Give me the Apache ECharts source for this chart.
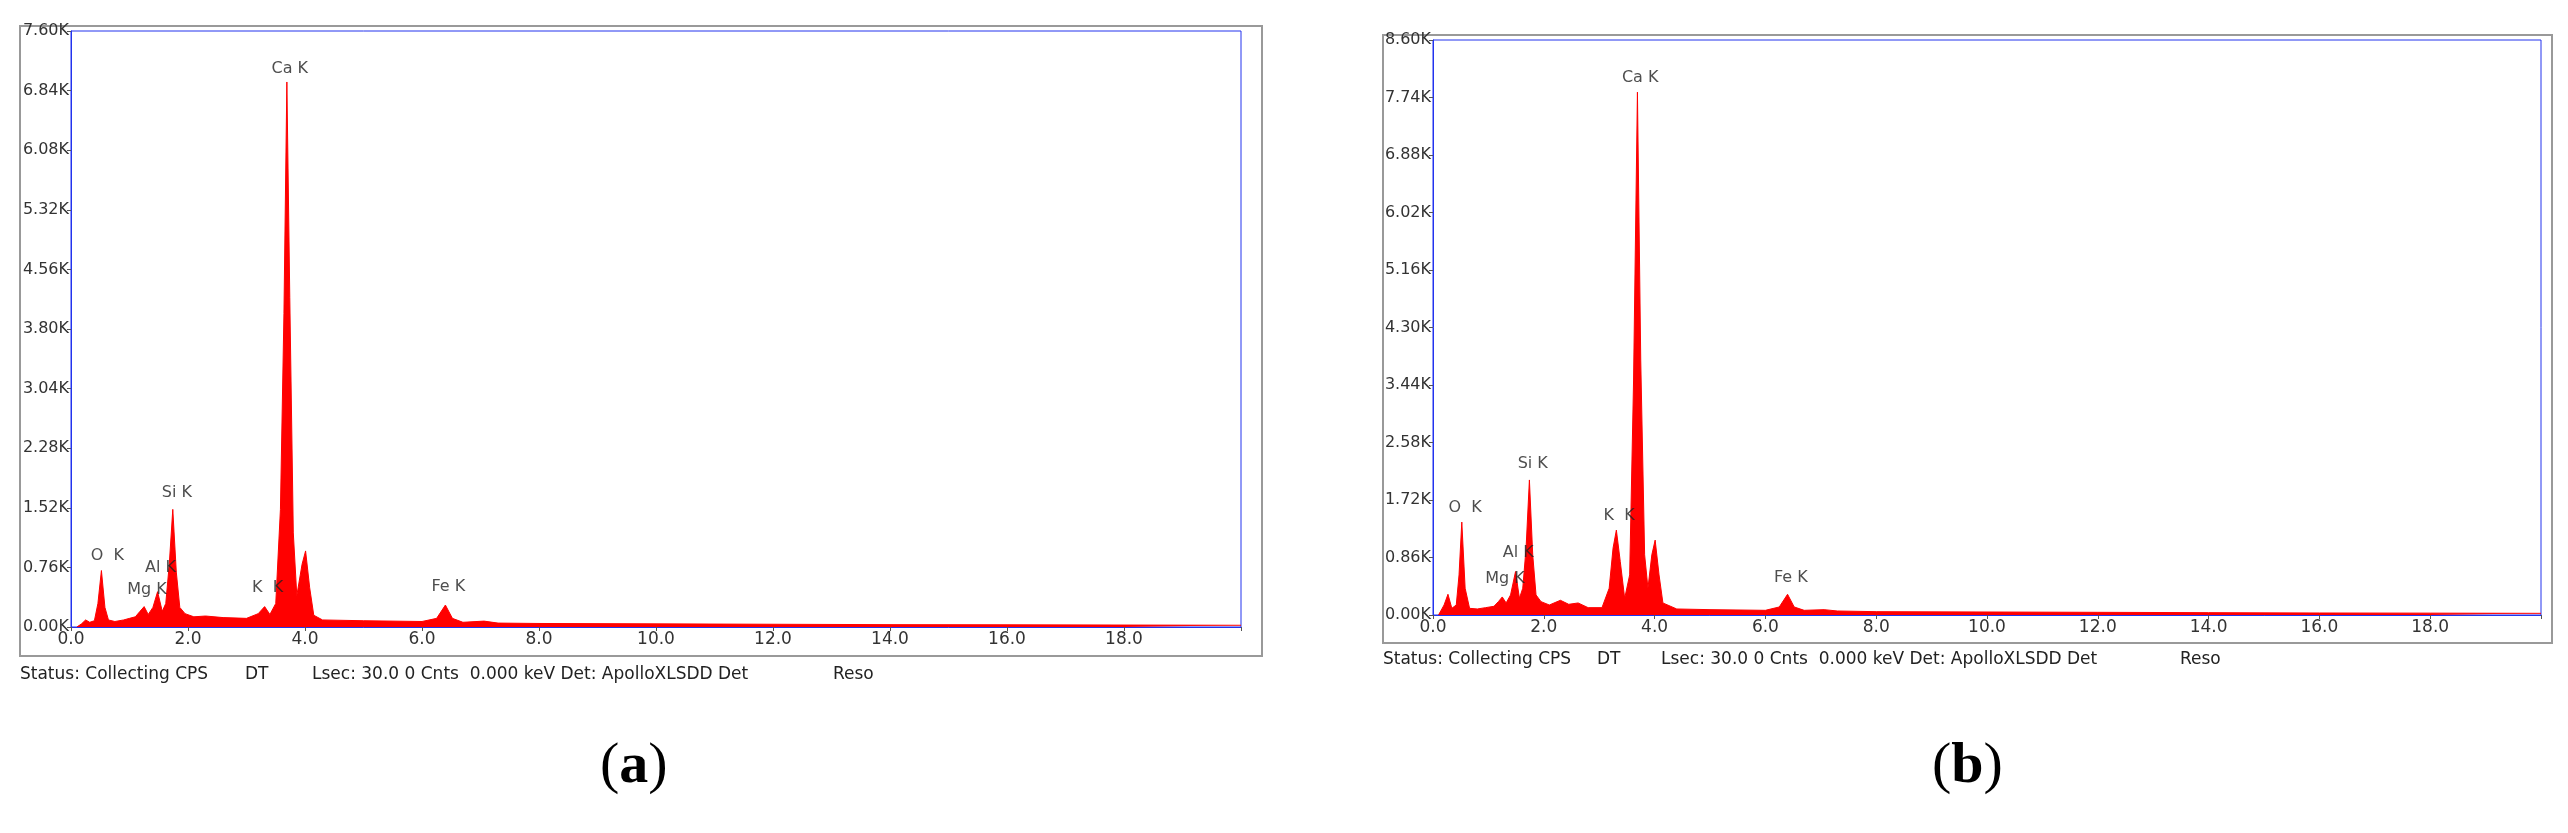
<!DOCTYPE html>
<html><head><meta charset="utf-8">
<script src="https://cdn.jsdelivr.net/npm/echarts@6/dist/echarts.min.js"></script>
<style>html,body{margin:0;padding:0;background:#fff}#c{width:2568px;height:833px}</style>
</head><body><div id="c"></div>
<script>
// Panel (a) spectrum
const energyA = [0.10,0.18,0.25,0.32,0.40,0.46,0.52,0.58,0.64,0.75,0.90,1.00,1.10,1.18,1.25,1.32,1.40,1.48,1.56,1.62,1.68,1.74,1.80,1.86,1.95,2.10,2.30,2.60,3.00,3.20,3.31,3.40,3.50,3.58,3.64,3.69,3.74,3.80,3.86,3.95,4.01,4.08,4.15,4.30,5.00,6.00,6.25,6.40,6.52,6.70,7.06,7.30,8,10,12,14,16,18,20];
const countsA = [0,40,90,60,80,300,720,250,90,70,90,110,130,200,260,160,250,450,200,300,800,1500,700,250,170,130,140,120,110,170,260,160,300,1500,4000,6950,4200,1200,400,800,970,500,150,90,80,70,110,280,110,60,75,50,45,40,35,30,28,25,22];
// Panel (b) spectrum
const energyB = [0.10,0.20,0.27,0.34,0.42,0.47,0.52,0.58,0.66,0.80,0.95,1.10,1.18,1.25,1.32,1.40,1.49,1.56,1.62,1.68,1.74,1.80,1.86,1.95,2.10,2.30,2.45,2.62,2.80,3.05,3.18,3.25,3.31,3.38,3.46,3.55,3.62,3.69,3.75,3.82,3.88,3.95,4.01,4.08,4.15,4.40,5,6,6.25,6.40,6.52,6.70,7.06,7.3,8,10,12,14,16,18,20];
const countsB = [0,150,310,100,150,600,1390,400,100,90,110,130,200,270,180,300,650,250,400,1000,2020,900,300,200,150,220,160,180,110,110,400,1000,1270,800,250,600,3500,7820,3800,900,400,900,1120,600,180,90,80,70,120,310,120,70,80,60,50,45,40,35,30,28,25];
// Peak labels
const labelTexts = ['O  K','Mg K','Al K','Si K','K  K','Ca K','Fe K'];
const labelXA = [0.62,1.30,1.53,1.81,3.36,3.74,6.45];
const labelYA = [910,470,750,1710,500,7120,510];
const labelXB = [0.58,1.30,1.54,1.80,3.36,3.74,6.46];
const labelYB = [1610,540,930,2260,1480,8040,550];
const yMaxA = 7600, yStepA = 760;
const yMaxB = 8600, yStepB = 860;

const zip = (xs, ys) => xs.map((x,i)=>[x, ys[i]]);
const lab = (xs, ys) => xs.map((x,i)=>({value:[x, ys[i]], name:labelTexts[i]}));
const blue = '#2233ee';
function xAx(i){return {type:'value',gridIndex:i,min:0,max:20,interval:2,
  axisLine:{lineStyle:{color:blue}},axisTick:{show:true,length:4,lineStyle:{color:'#555'}},
  splitLine:{show:false},axisLabel:{color:'#333',fontSize:17,fontFamily:'DejaVu Sans',
  formatter:v=> (v===20?'':v.toFixed(1)), margin:4}};}
function yAx(i,max,step){return {type:'value',gridIndex:i,min:0,max:max,interval:step,
  axisLine:{show:true,lineStyle:{color:blue}},axisTick:{show:true,length:4,lineStyle:{color:'#555'}},
  splitLine:{show:false},axisLabel:{color:'#333',fontSize:16,fontFamily:'DejaVu Sans',
  formatter:v=>(v/1000).toFixed(2)+'K', margin:2}};}
function spec(i,data){return {type:'line',xAxisIndex:i,yAxisIndex:i,data:data,showSymbol:false,z:2,
  lineStyle:{color:'#ff0000',width:1},areaStyle:{color:'#ff0000',opacity:1},silent:true,animation:false};}
function labs(i,data){return {type:'scatter',xAxisIndex:i,yAxisIndex:i,data:data,symbolSize:0,silent:true,z:10,
  label:{show:true,position:'inside',formatter:p=>p.name,color:'#222',fontSize:16,fontFamily:'DejaVu Sans'}};}
function txt(x,y,t,size){return {type:'text',left:x,top:y,style:{text:t,fill:'#222',fontSize:size,fontFamily:'DejaVu Sans'}};}
function cap(x,y,letter){return {type:'text',left:x,top:y,style:{text:'{p|(}{l|'+letter+'}{p|)}',
  rich:{p:{fontSize:58,fontFamily:'Liberation Serif',fill:'#000'},l:{fontSize:58,fontWeight:'bold',fontFamily:'Liberation Serif',fill:'#000'}}}};}

const chart = echarts.init(document.getElementById('c'));
chart.setOption({
  animation:false,
  grid:[
    {left:71,top:31,width:1170,height:596,show:true,borderColor:blue,borderWidth:1,backgroundColor:'#fff'},
    {left:1433,top:40,width:1108,height:575,show:true,borderColor:blue,borderWidth:1,backgroundColor:'#fff'}
  ],
  xAxis:[xAx(0),xAx(1)],
  yAxis:[yAx(0,yMaxA,yStepA),yAx(1,yMaxB,yStepB)],
  series:[spec(0,zip(energyA,countsA)),spec(1,zip(energyB,countsB)),labs(0,lab(labelXA,labelYA)),labs(1,lab(labelXB,labelYB))],
  graphic:[
    {type:'rect',shape:{x:20,y:26,width:1242,height:630},style:{fill:'none',stroke:'#999',lineWidth:2},z:-1},
    {type:'rect',shape:{x:1383,y:35,width:1169,height:608},style:{fill:'none',stroke:'#999',lineWidth:2},z:-1},
    txt(20,666,'Status: Collecting CPS',17), txt(245,666,'DT',17), txt(312,666,'Lsec: 30.0 0 Cnts  0.000 keV Det: ApolloXLSDD Det',17), txt(833,666,'Reso',17),
    txt(1383,651,'Status: Collecting CPS',17), txt(1597,651,'DT',17), txt(1661,651,'Lsec: 30.0 0 Cnts  0.000 keV Det: ApolloXLSDD Det',17), txt(2180,651,'Reso',17),
    cap(600,738,'a'), cap(1932,738,'b')
  ]
});
</script></body></html>
